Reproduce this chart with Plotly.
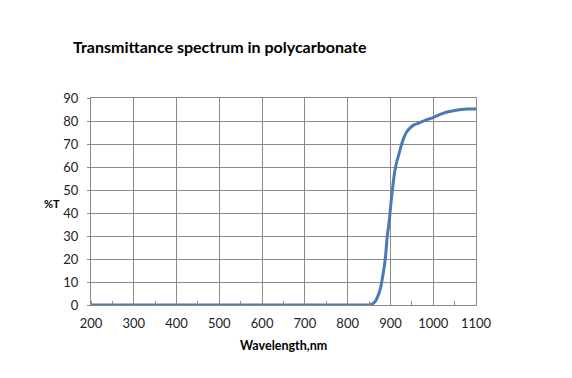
import plotly.graph_objects as go

wavelength = [200, 300, 400, 500, 600, 700, 800, 850, 856, 865, 872, 877, 881, 885, 889, 892, 895, 898, 901, 904, 907, 911, 915, 919, 924, 930, 937, 946, 955, 965, 980, 1000, 1018, 1035, 1050, 1065, 1080, 1100]
transmittance = [0, 0, 0, 0, 0, 0, 0, 0, 0.3, 1.7, 4.5, 7.5, 11.5, 16, 22, 29, 33.5, 38, 44, 49, 54, 59, 62.5, 65, 68.5, 72, 75, 77, 78.3, 79, 80.2, 81.5, 83, 84, 84.6, 85, 85.2, 85.2]

x_ticks = [200, 300, 400, 500, 600, 700, 800, 900, 1000, 1100]
y_ticks = [0, 10, 20, 30, 40, 50, 60, 70, 80, 90]

font_family = "Lato, Liberation Sans, sans-serif"

L, R, T, B = 83, 104, 90, 81
W, H = 572, 378
pw, ph = W - L - R, H - T - B

fig = go.Figure()
fig.add_trace(go.Scatter(
    x=wavelength, y=transmittance, mode="lines",
    line=dict(color="#4a7ab5", width=3, shape="spline", smoothing=0.6),
    showlegend=False, hoverinfo="skip",
))

fig.update_layout(
    width=W, height=H,
    paper_bgcolor="white", plot_bgcolor="white",
    margin=dict(l=L, r=R, t=T, b=B, autoexpand=False),
    font=dict(family=font_family, size=12, color="#222222"),
    title=dict(text="<b>Transmittance spectrum in polycarbonate</b>",
               x=65/W, xanchor="left", y=1-39/H, yanchor="middle",
               font=dict(family=font_family, size=16, color="black")),
    xaxis=dict(
        range=[200, 1100], tickvals=x_ticks, ticktext=[str(v) for v in x_ticks],
        showgrid=True, gridcolor="#8a8a8a", gridwidth=1,
        showline=True, linecolor="#8a8a8a", linewidth=1, mirror=True,
        ticks="", zeroline=False, ticklabelstandoff=6,
        minor=dict(dtick=50, tick0=250, ticks="inside", ticklen=4, tickcolor="#8a8a8a", showgrid=False),
        tickfont=dict(size=13, color="#222222"),
    ),
    yaxis=dict(
        range=[0, 90], tickvals=y_ticks, ticktext=[str(v) for v in y_ticks],
        showgrid=True, gridcolor="#8a8a8a", gridwidth=1,
        showline=True, linecolor="#8a8a8a", linewidth=1, mirror=True,
        ticks="outside", ticklen=3, tickcolor="#8a8a8a", zeroline=False,
        ticklabelstandoff=6,
        tickfont=dict(size=13, color="#222222"),
    ),
    annotations=[
        dict(text="<b>%T</b>", x=(43.5 - L) / pw, y=(ph + T - 195) / ph, xref="paper", yref="paper",
             xanchor="center", yanchor="middle", showarrow=False,
             font=dict(size=11, color="black")),
        dict(text="<b>Wavelength,nm</b>", x=0.5, y=(ph + T - 337) / ph, xref="paper", yref="paper",
             xanchor="center", yanchor="middle", showarrow=False,
             font=dict(size=12.5, color="black")),
    ],
)

fig.write_html("out.html")
